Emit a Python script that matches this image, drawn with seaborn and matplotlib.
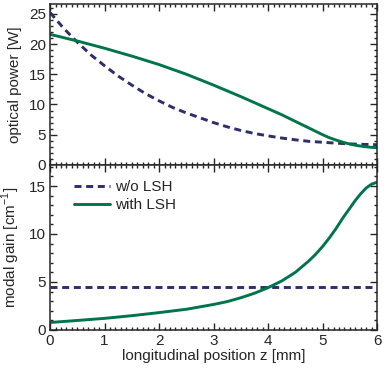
import numpy as np
import pandas as pd
import matplotlib
matplotlib.use("Agg")
import matplotlib.pyplot as plt
import seaborn as sns
from matplotlib.ticker import MultipleLocator

# Datos
z_pot_sin = [0, 0.25, 0.5, 0.75, 1.0, 1.25, 1.5, 1.75, 2.0, 2.25, 2.5, 2.75, 3.0,
             3.25, 3.5, 3.75, 4.0, 4.25, 4.5, 4.75, 5.0, 5.25, 5.5, 5.75, 6.0]
pot_sin = [25.2, 22.6, 20.3, 18.2, 16.4, 14.7, 13.2, 11.8, 10.6, 9.5, 8.6, 7.8, 7.0,
           6.3, 5.7, 5.2, 4.8, 4.45, 4.15, 3.9, 3.75, 3.6, 3.48, 3.4, 3.35]

z_pot_con = [0, 0.5, 1.0, 1.5, 2.0, 2.5, 3.0, 3.5, 3.75, 4.0, 4.25, 4.5, 4.75,
             4.875, 5.0, 5.125, 5.25, 5.375, 5.5, 5.625, 5.75, 5.875, 6.0]
pot_con = [21.6, 20.5, 19.3, 18.0, 16.6, 15.0, 13.2, 11.3, 10.3, 9.3, 8.3, 7.2, 6.1,
           5.55, 5.0, 4.5, 4.1, 3.75, 3.45, 3.22, 3.05, 2.93, 2.85]

z_gan_sin = [0, 6]
gan_sin = [4.43, 4.43]

z_gan_con = [0, 0.5, 1.0, 1.5, 2.0, 2.5, 3.0, 3.25, 3.5, 3.75, 4.0, 4.25, 4.5,
             4.75, 4.875, 5.0, 5.125, 5.25, 5.375, 5.5, 5.6, 5.7, 5.8, 5.9, 6.0]
gan_con = [0.77, 0.98, 1.2, 1.48, 1.8, 2.15, 2.65, 2.95, 3.35, 3.82, 4.4, 5.1, 6.0,
           7.2, 7.9, 8.7, 9.6, 10.6, 11.7, 12.7, 13.5, 14.2, 14.8, 15.2, 15.4]

etiquetas = ["w/o LSH", "with LSH"]
col_sin = "#2e2d6e"
col_con = "#00744a"

sns.set_style("ticks")
plt.rcParams['font.family'] = ['Liberation Sans', 'DejaVu Sans']
plt.rcParams['font.size'] = 11
plt.rcParams['mathtext.fontset'] = 'custom'
plt.rcParams['mathtext.rm'] = 'Liberation Sans'

fig = plt.figure(figsize=(3.88, 3.74), dpi=100)
ax1 = fig.add_axes([0.129, 0.559, 0.843, 0.430])
ax2 = fig.add_axes([0.129, 0.118, 0.843, 0.441])

df_p1 = pd.DataFrame({"z": z_pot_sin, "p": pot_sin})
df_p2 = pd.DataFrame({"z": z_pot_con, "p": pot_con})
df_g1 = pd.DataFrame({"z": z_gan_sin, "g": gan_sin})
df_g2 = pd.DataFrame({"z": z_gan_con, "g": gan_con})

guiones = [2.4, 1.6]
sns.lineplot(data=df_p1, x="z", y="p", ax=ax1, color=col_sin, lw=2.1)
ax1.lines[-1].set_dashes(guiones)
sns.lineplot(data=df_p2, x="z", y="p", ax=ax1, color=col_con, lw=2.1)

sns.lineplot(data=df_g1, x="z", y="g", ax=ax2, color=col_sin, lw=2.1, label=etiquetas[0])
ax2.lines[-1].set_dashes(guiones)
sns.lineplot(data=df_g2, x="z", y="g", ax=ax2, color=col_con, lw=2.1, label=etiquetas[1])

for linea in ax1.lines + ax2.lines:
    linea.set_solid_joinstyle("round")

ax1.set_xlim(0, 6)
ax1.set_ylim(0, 26.6)
ax2.set_xlim(0, 6)
ax2.set_ylim(0, 17.2)

ax1.set_xlabel("")
ax1.set_ylabel("optical power [W]")
ax2.set_xlabel("longitudinal position z [mm]", labelpad=1)
ax2.set_ylabel("modal gain [cm$^{-1}$]")

for ax in (ax1, ax2):
    ax.xaxis.set_major_locator(MultipleLocator(1))
    ax.xaxis.set_minor_locator(MultipleLocator(0.1))
    ax.yaxis.set_major_locator(MultipleLocator(5))
    ax.yaxis.set_minor_locator(MultipleLocator(1))
    ax.tick_params(which="both", direction="in", top=True, right=True, width=1)
    ax.tick_params(which="major", length=5, labelsize=11, pad=3)
    ax.tick_params(which="minor", length=2.5)
    for s in ax.spines.values():
        s.set_linewidth(1.1)
ax1.tick_params(labelbottom=False)
ax1.yaxis.set_label_coords(-0.085, 0.5)
ax2.yaxis.set_label_coords(-0.085, 0.5)

leg = ax2.legend(loc="upper left", bbox_to_anchor=(0.03, 0.99), frameon=False,
                 handlelength=2.4, handletextpad=0.3, labelspacing=0.25, fontsize=11)

fig.savefig("out.png", dpi=100)
